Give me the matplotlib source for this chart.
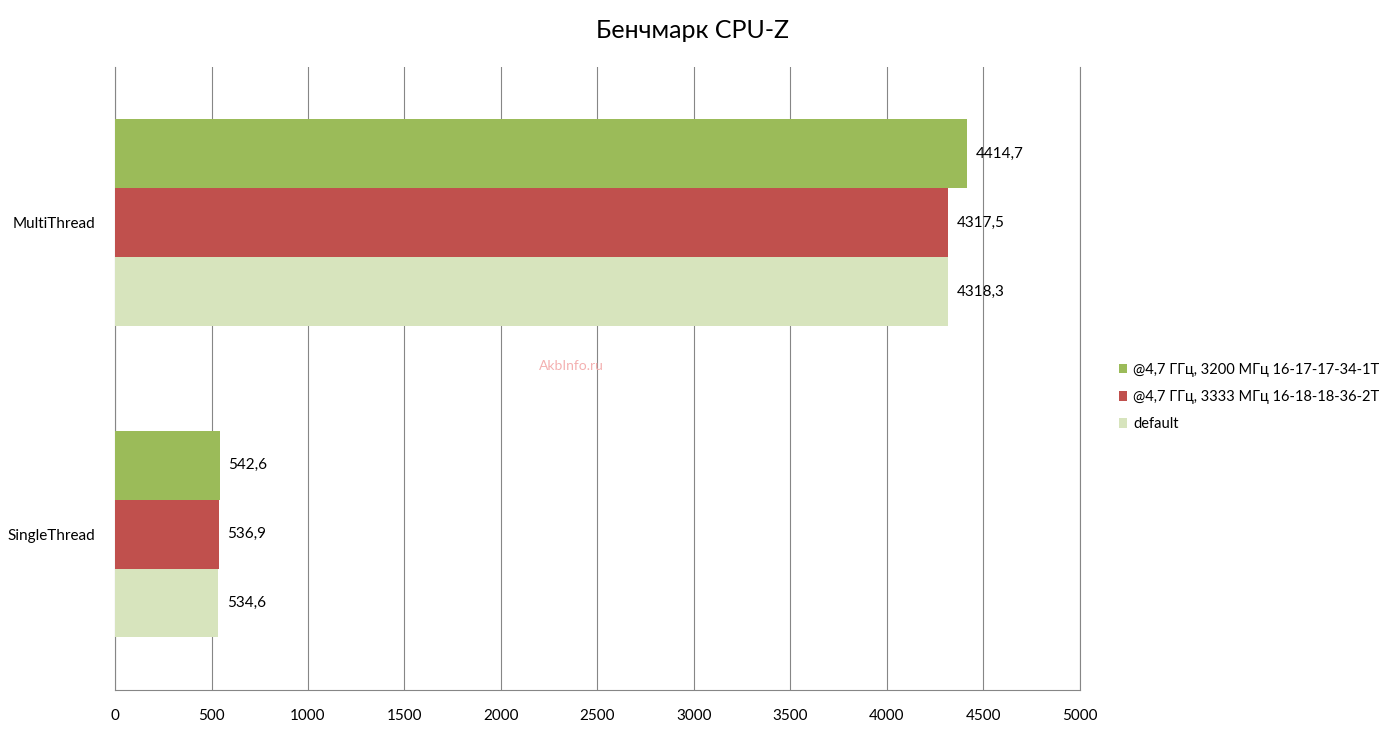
import numpy as np
import matplotlib
matplotlib.use('Agg')
import matplotlib.pyplot as plt

plt.rcParams['font.family'] = ['Lato', 'DejaVu Sans']

categories = ['SingleThread', 'MultiThread']
series_names = ['@4,7 ГГц, 3200 МГц 16-17-17-34-1T',
                '@4,7 ГГц, 3333 МГц 16-18-18-36-2T',
                'default']
oc_3200 = [542.6, 4414.7]
oc_3333 = [536.9, 4317.5]
default = [534.6, 4318.3]
colors = ['#9BBB59', '#C0504D', '#D7E4BD']
xticks = [0, 500, 1000, 1500, 2000, 2500, 3000, 3500, 4000, 4500, 5000]

fig = plt.figure(figsize=(13.93, 7.34), dpi=100)
ax = fig.add_axes([0.0826, 0.06, 0.6924, 0.849])

h = 0.221
y = np.arange(len(categories))
for i, (vals, name, col) in enumerate(zip([oc_3200, oc_3333, default], series_names, colors)):
    off = (1 - i) * h
    bars = ax.barh(y + off, vals, height=h, color=col, label=name, zorder=3)
    for b, v in zip(bars, vals):
        ax.text(v + 45, b.get_y() + h / 2, ('%.1f' % v).replace('.', ','),
                va='center', ha='left', fontsize=11)

ax.set_xlim(0, 5000)
ax.set_ylim(-0.5, 1.5)
ax.set_xticks(xticks)
ax.set_yticks(y)
ax.set_yticklabels(categories, fontsize=11)
ax.tick_params(axis='x', labelsize=11, length=0, pad=14)
ax.tick_params(axis='y', length=0, pad=14)
ax.grid(axis='x', color='#868686', linewidth=0.8, zorder=0)
ax.axvline(xticks[-1], color='#868686', linewidth=0.8, zorder=0, clip_on=False)
for s in ['top', 'right']:
    ax.spines[s].set_visible(False)
ax.spines['left'].set_color('#868686')
ax.spines['bottom'].set_color('#868686')

fig.text(0.497, 0.958, 'Бенчмарк CPU-Z', ha='center', va='center', fontsize=18)
fig.text(0.41, 0.502, 'AkbInfo.ru', ha='center', va='center', fontsize=10, color='#f4b0b0')

ax.legend(loc='center left', bbox_to_anchor=(1.027, 0.47), frameon=False,
          fontsize=10.5, handlelength=0.6, handleheight=0.6, handletextpad=0.4,
          labelspacing=0.9)

fig.savefig('out.png', dpi=100)
